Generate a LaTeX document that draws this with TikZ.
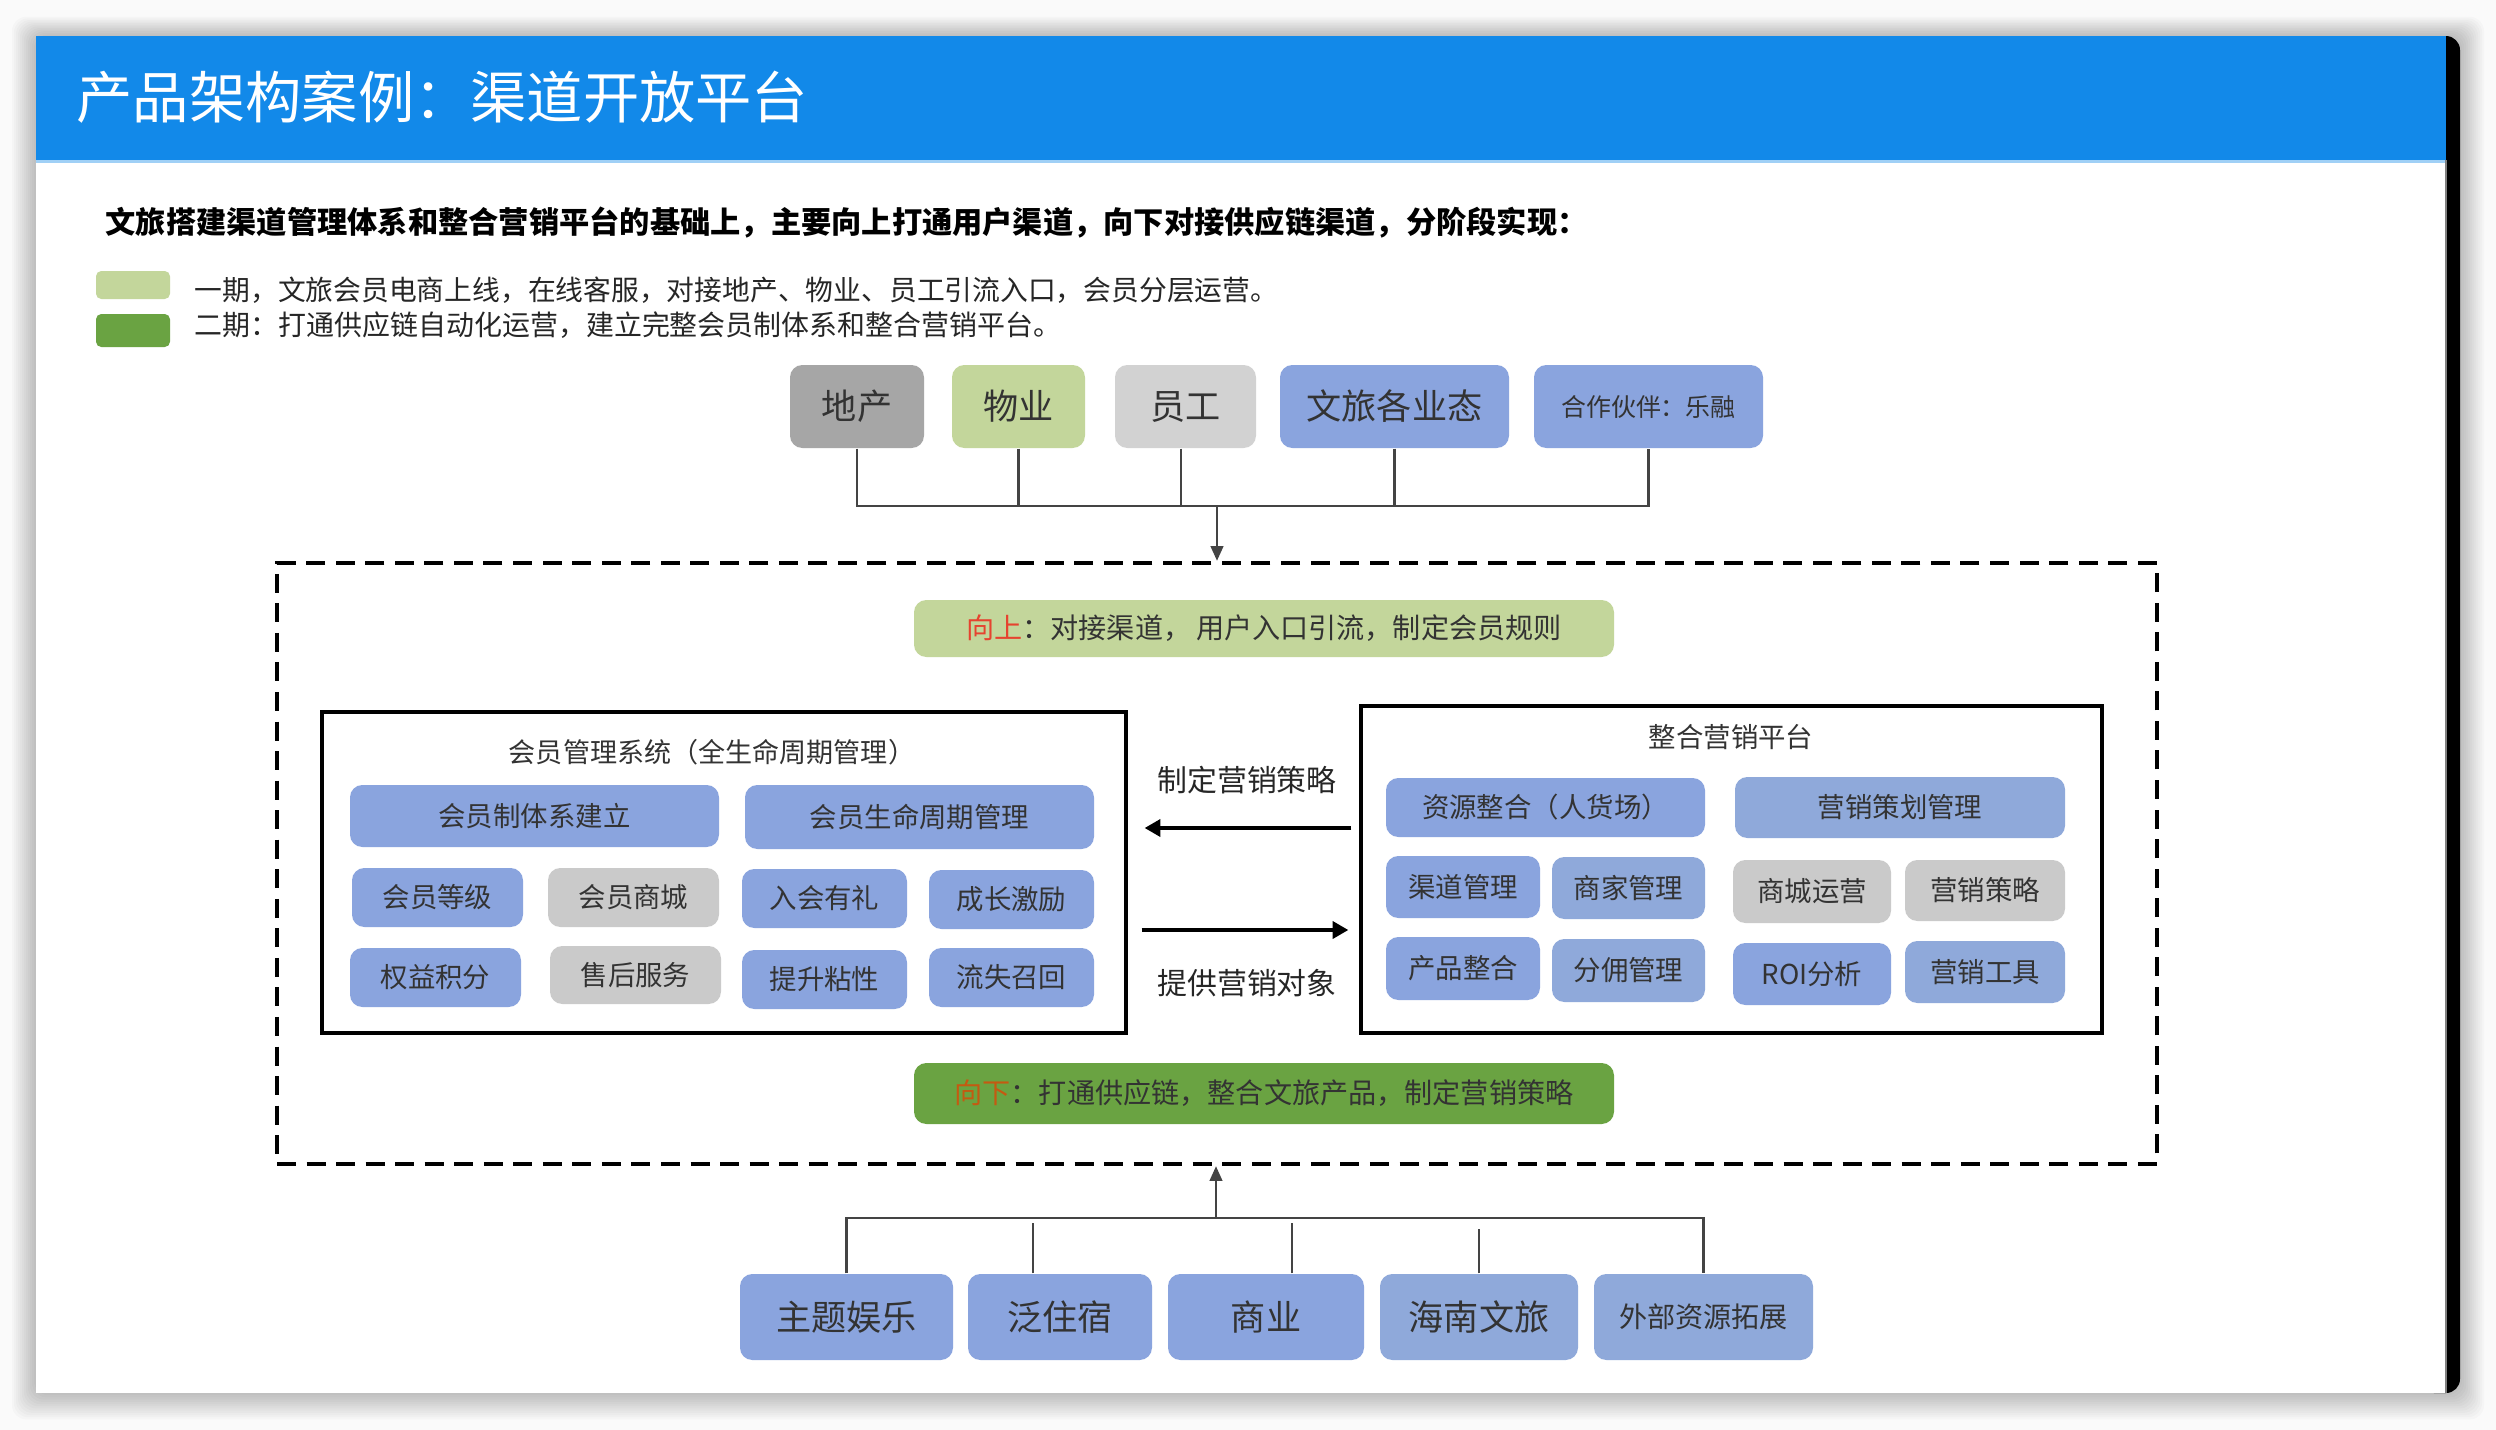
\documentclass[tikz,border=0pt]{standalone}
\usepackage{fontspec}
\setmainfont{Noto Sans CJK SC}
\usetikzlibrary{fit,arrows.meta,calc}
\definecolor{hdr}{HTML}{1289E9}
\definecolor{bl}{HTML}{8AA4DE}
\definecolor{bl2}{HTML}{8FA9DA}
\definecolor{gy}{HTML}{CACACA}
\definecolor{dgy}{HTML}{A6A6A6}
\definecolor{lgr}{HTML}{C3D69B}
\definecolor{dgr}{HTML}{6AA342}
\definecolor{rd}{HTML}{E6432F}
\definecolor{org}{HTML}{C55A11}
\definecolor{tx}{HTML}{333333}
\definecolor{ln}{HTML}{444444}
\definecolor{bgc}{HTML}{FAFAFA}
% box with text: #1 name, #2-#5 corners, #6 style, #7 text
\newcommand{\bx}[7]{\node[#6, fit={(#2,#3) (#4,#5)}] (#1) {};
  \node[#6, fill=none, draw=none, inner sep=0pt] (#1-t) at (#1.center) {#7};}
% empty box
\newcommand{\bxe}[6]{\node[#6, fit={(#2,#3) (#4,#5)}] (#1) {};}
\tikzset{
  fs/.style={font=\fontsize{#1pt}{#1pt}\selectfont},
  cbox/.style={rounded corners=3.5pt, inner sep=0pt, draw=none, text=tx},
  blue/.style={cbox, fill=bl},
  blueb/.style={cbox, fill=bl2},
  grey/.style={cbox, fill=gy},
  conn/.style={draw=ln, line width=0.65pt},
  thinarrow/.style={conn, -{Triangle[length=4.2pt,width=3.6pt]}},
  thickarrow/.style={draw=black, line width=1.4pt, -{Triangle[length=4.5pt,width=4.8pt]}},
  frame/.style={draw=black, line width=0.9pt, inner sep=0pt},
}
\begin{document}
\begin{tikzpicture}[x=0.01cm, y=-0.01cm]
\useasboundingbox (0,0) rectangle (2496,1430);
\fill[bgc] (0,0) rectangle (2496,1430);
% shadow
\foreach \i in {1,...,12}{
  \fill[black, opacity=0.018, rounded corners=4pt] ({36-\i*2},{36-\i*1.6}) rectangle ({2460+\i*2},{1393+\i*2.2});
}
% black bar on right
\fill[black, rounded corners=4pt] (2420,36) rectangle (2460,1393);
% slide
\fill[white] (36,36) rectangle (2446,1393);
\fill[hdr] (36,36) rectangle (2446,160);
\fill[hdr!40!white] (36,160) rectangle (2446,163);
\draw[gray, line width=0.4pt] (2446,160) -- (2446,1393);
\node[anchor=west, text=white, fs=16, inner sep=0pt] (title) at (76,97) {产品架构案例：渠道开放平台};

% subtitle and legend
\node[anchor=west, text=black, inner sep=0pt] (sub) at (105,223)
  {\fontsize{8.6pt}{8.6pt}\selectfont\bfseries 文旅搭建渠道管理体系和整合营销平台的基础上，主要向上打通用户渠道，向下对接供应链渠道，分阶段实现：};
\bxe{sw1}{96}{271}{170}{299}{cbox, fill=lgr, rounded corners=1.5pt}
\bxe{sw2}{96}{314}{170}{347}{cbox, fill=dgr, rounded corners=1.5pt}
\node[anchor=west, text=black!85, fs=7.9, inner sep=0pt] (leg1) at (194,290) {一期，文旅会员电商上线，在线客服，对接地产、物业、员工引流入口，会员分层运营。};
\node[anchor=west, text=black!85, fs=7.95, inner sep=0pt] (leg2) at (194,325) {二期：打通供应链自动化运营，建立完整会员制体系和整合营销平台。};

% top boxes
\bx{t1}{790}{365}{924}{448}{cbox, fill=dgy, fs=10}{地产}
\bx{t2}{952}{365}{1085}{448}{cbox, fill=lgr, fs=10}{物业}
\bx{t3}{1115}{365}{1256}{448}{cbox, fill=gy!85!white, fs=10}{员工}
\bx{t4}{1280}{365}{1509}{448}{blue, fs=10}{文旅各业态}
\bx{t5}{1534}{365}{1763}{448}{blue, fs=7.1}{合作伙伴：乐融}

% dashed container
\bxe{dbox}{277}{563}{2157}{1164}{draw=black, line width=1.25pt, dash pattern=on 5.4pt off 3.0pt, inner sep=0pt}

\coordinate (tophub) at (1217,506);
\draw[conn] (t1.south) |- (t5.south |- tophub) -- (t5.south);
\draw[conn] (t2.south) -- (t2.south |- tophub);
\draw[conn] ([xshift=-1.3pt]t3.south) -- ([xshift=-1.3pt]t3.south |- tophub);
\draw[conn] (t4.south) -- (t4.south |- tophub);
\draw[thinarrow] (tophub) -- (tophub |- dbox.north);

% banners
\bx{up}{914}{600}{1614}{657}{cbox, fill=lgr, fs=8}{{\color{rd}向上}：对接渠道，\,用户入口引流，制定会员规则}
\bx{down}{914}{1063}{1614}{1124}{cbox, fill=dgr, fs=8}{{\color{org}向下}：打通供应链，整合文旅产品，制定营销策略}

% left system
\bxe{lbox}{322}{712}{1126}{1033}{frame}
\node[text=tx, fs=7.7, inner sep=0pt] (ltitle) at (712,752) {会员管理系统（全生命周期管理）};
\bx{a1}{350}{785}{719}{847}{blue, fs=7.8}{会员制体系建立}
\bx{a2}{745}{785}{1094}{849}{blue, fs=7.8}{会员生命周期管理}
\bx{b1}{352}{868}{523}{927}{blue, fs=7.8}{会员等级}
\bx{b2}{548}{868}{719}{927}{grey, fs=7.8}{会员商城}
\bx{b3}{742}{869}{907}{928}{blue, fs=7.8}{入会有礼}
\bx{b4}{929}{870}{1094}{929}{blue, fs=7.8}{成长激励}
\bx{c1}{350}{948}{521}{1007}{blue, fs=7.8}{权益积分}
\bx{c2}{550}{946}{721}{1004}{grey, fs=7.8}{售后服务}
\bx{c3}{742}{950}{907}{1009}{blue, fs=7.8}{提升粘性}
\bx{c4}{929}{948}{1094}{1007}{blue, fs=7.8}{流失召回}

% right platform
\bxe{rbox}{1361}{706}{2102}{1033}{frame}
\node[text=tx, fs=7.8, inner sep=0pt] (rtitle) at (1731,737) {整合营销平台};
\bx{d1}{1386}{778}{1705}{837}{blue, fs=7.8}{资源整合（人货场）}
\bx{d2}{1735}{777}{2065}{838}{blueb, fs=7.8}{营销策划管理}
\bx{e1}{1386}{856}{1540}{918}{blue, fs=7.8}{渠道管理}
\bx{e2}{1552}{857}{1705}{919}{blueb, fs=7.8}{商家管理}
\bx{e3}{1733}{860}{1891}{923}{grey, fs=7.8}{商城运营}
\bx{e4}{1905}{860}{2065}{921}{grey, fs=7.8}{营销策略}
\bx{f1}{1386}{937}{1540}{1000}{blue, fs=7.8}{产品整合}
\bx{f2}{1552}{939}{1705}{1002}{blueb, fs=7.8}{分佣管理}
\bx{f3}{1733}{943}{1891}{1005}{blue, fs=7.8}{ROI分析}
\bx{f4}{1905}{941}{2065}{1003}{blueb, fs=7.8}{营销工具}

% middle arrows
\node[text=black!85, fs=8.5, inner sep=0pt] (lab1) at (1247,780) {制定营销策略};
\node[text=black!85, fs=8.5, inner sep=0pt] (lab2) at (1247,983) {提供营销对象};
\draw[thickarrow] ($(rbox.west)+(-8,-41.5)$) -- ($(lbox.east)+(17,-44.5)$);
\draw[thickarrow] ($(lbox.east)+(14,57.5)$) -- ($(rbox.west)+(-11,60.5)$);

% bottom boxes
\bx{g1}{740}{1274}{953}{1360}{blue, fs=10}{主题娱乐}
\bx{g2}{968}{1274}{1152}{1360}{blue, fs=10}{泛住宿}
\bx{g3}{1168}{1274}{1364}{1360}{blue, fs=10}{商业}
\bx{g4}{1380}{1274}{1578}{1360}{blueb, fs=10}{海南文旅}
\bx{g5}{1594}{1274}{1813}{1360}{blueb, fs=8}{外部资源拓展}

\coordinate (bothub) at (1216,1218);
\draw[conn] (g1.north) |- (g5.north |- bothub) -- (g5.north);
\draw[conn] ([xshift=-7.7pt]g2.north) -- ++(0,-50);
\draw[conn] ([xshift=7.4pt]g3.north) -- ++(0,-50);
\draw[conn] (g4.north) -- ++(0,-44);
\draw[thinarrow] (bothub) -- (bothub |- dbox.south);
\end{tikzpicture}
\end{document}
